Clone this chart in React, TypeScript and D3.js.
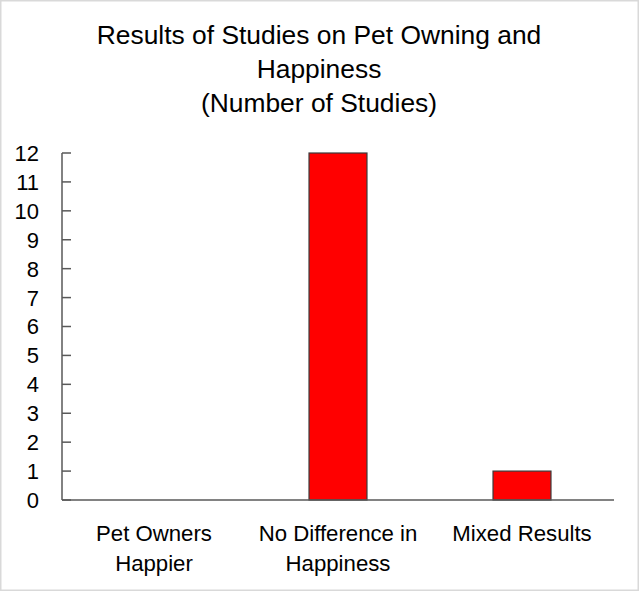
import React from "react";
import * as d3 from "d3";

const categories = ["Pet Owners Happier", "No Difference in Happiness", "Mixed Results"];
const categoryLines = [["Pet Owners", "Happier"], ["No Difference in", "Happiness"], ["Mixed Results"]];
const values = [0, 12, 1];
const yTicks = [0, 1, 2, 3, 4, 5, 6, 7, 8, 9, 10, 11, 12];
const titleLines = ["Results of Studies on Pet Owning and", "Happiness", "(Number of Studies)"];

export default function App() {
  const W = 639, H = 592;
  const x0 = 62, x1 = 614, yBottom = 500, yTop = 153;
  const x = d3.scaleBand<string>().domain(categories).range([x0, x1]).paddingInner(0.685).paddingOuter(0.3425);
  const y = d3.scaleLinear().domain([0, 12]).range([yBottom, yTop]);
  const font = "'Liberation Sans', Arial, sans-serif";
  return (
    <div style={{ position: "absolute", left: 0, top: 0 }}>
      <svg width={W} height={H} style={{ display: "block", background: "#fff" }}>
        <rect x={0.75} y={0.75} width={W - 1.5} height={H - 2.5} fill="#fff" stroke="#d9d9d9" strokeWidth={1.5} />
        {titleLines.map((t, i) => (
          <text key={i} x={319} y={44 + i * 34} textAnchor="middle" fontFamily={font} fontSize={26.4} fill="#000">{t}</text>
        ))}
        {categories.map((c, i) => (
          <rect key={c} x={x(c)!} y={y(values[i])} width={x.bandwidth()} height={yBottom - y(values[i])}
            fill="#ff0000" stroke="#3a3a3a" strokeWidth={1.2} style={{ display: values[i] > 0 ? undefined : "none" }} />
        ))}
        <line x1={x0} x2={x0} y1={yTop} y2={yBottom} stroke="#595959" strokeWidth={1.5} />
        <line x1={x0} x2={x1} y1={yBottom} y2={yBottom} stroke="#595959" strokeWidth={1.5} />
        {yTicks.map((t) => (
          <g key={t}>
            <line x1={x0} x2={x0 + 9} y1={y(t)} y2={y(t)} stroke="#595959" strokeWidth={1.5} />
            <text x={39} y={y(t)} dy="0.36em" textAnchor="end" fontFamily={font} fontSize={22} fill="#000">{t}</text>
          </g>
        ))}
        {categories.map((c, i) => (
          <text key={c} textAnchor="middle" fontFamily={font} fontSize={22.2} fill="#000">
            {categoryLines[i].map((l, j) => (
              <tspan key={j} x={x(c)! + x.bandwidth() / 2} y={541 + j * 30}>{l}</tspan>
            ))}
          </text>
        ))}
      </svg>
    </div>
  );
}
